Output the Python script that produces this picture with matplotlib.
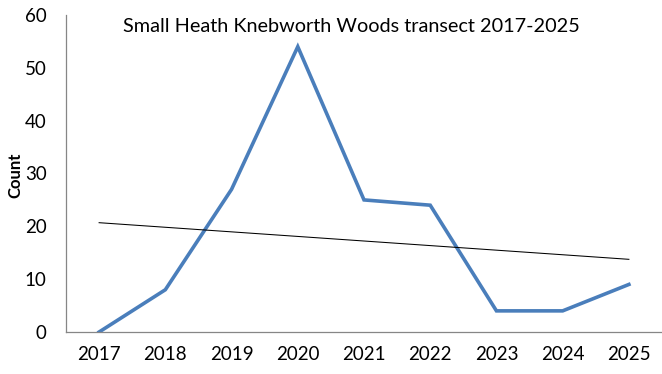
import numpy as np
import matplotlib.pyplot as plt

years = ["2017", "2018", "2019", "2020", "2021", "2022", "2023", "2024", "2025"]
counts = [0, 8, 27, 54, 25, 24, 4, 4, 9]

plt.rcParams["font.family"] = ["Lato", "DejaVu Sans"]

x = np.arange(len(years))
fit = np.polyfit(x, counts, 1)
trend = np.polyval(fit, x)

fig = plt.figure(figsize=(6.62, 3.74), dpi=100)
ax = fig.add_axes([66 / 662, 1 - 332 / 374, 596 / 662, 317 / 374])

ax.plot(x, counts, color="#4A7EBB", linewidth=2.6, solid_joinstyle="miter")
ax.plot(x, trend, color="black", linewidth=0.75)

ax.set_xlim(-0.5, 8.5)
ax.set_ylim(0, 60)
ax.set_xticks(x)
ax.set_xticklabels(years)
ax.set_yticks(range(0, 61, 10))
ax.tick_params(length=0, labelsize=13.5, pad=10)
ax.tick_params(axis="y", pad=14)
for s in ["top", "right"]:
    ax.spines[s].set_visible(False)
for s in ["left", "bottom"]:
    ax.spines[s].set_color("#868686")
    ax.spines[s].set_linewidth(0.9)

# y label placed by hand so it stays inside the figure
fig.text(15 / 662, 1 - 175 / 374, "Count", rotation=90, ha="center", va="center",
         fontsize=12, fontweight="bold")
ax.text(0.479, 0.965, "Small Heath Knebworth Woods transect 2017-2025",
        transform=ax.transAxes, ha="center", va="center", fontsize=14.3)

fig.savefig("out.png", dpi=100)
